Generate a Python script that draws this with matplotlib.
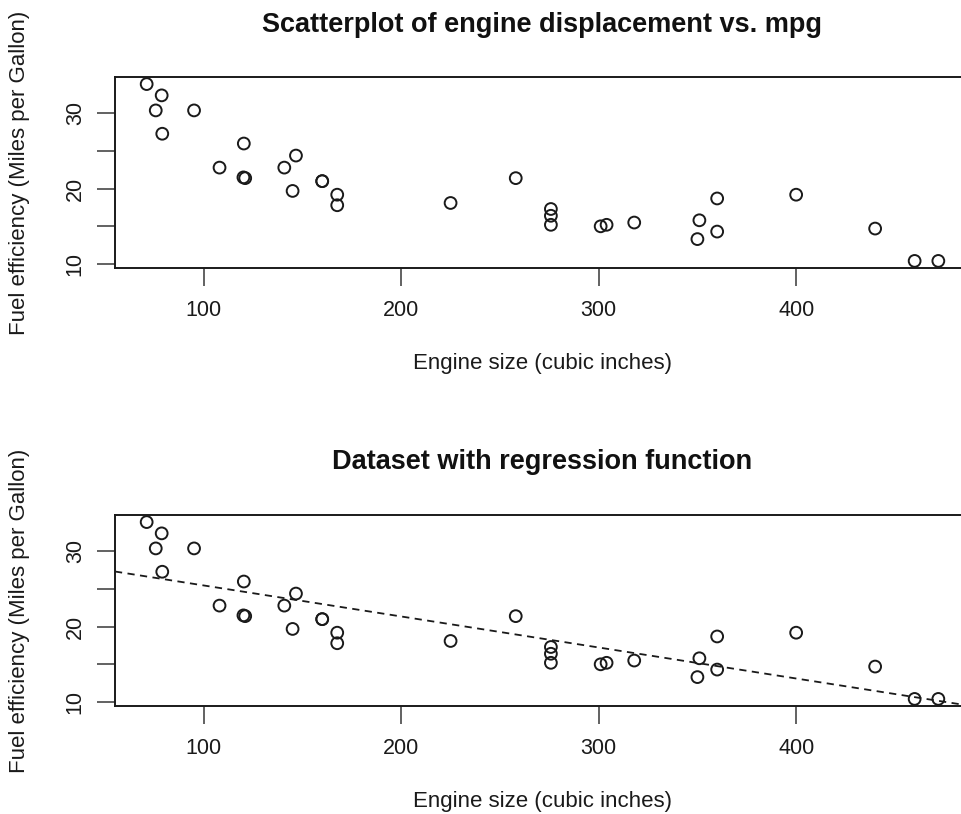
import matplotlib
matplotlib.use("Agg")
import matplotlib.pyplot as plt
import numpy as np

plt.rcParams['font.family'] = ['Liberation Sans', 'DejaVu Sans']

# mtcars: displacement (cu.in.) and mpg
disp = [160, 160, 108, 258, 360, 225, 360, 146.7, 140.8, 167.6, 167.6,
        275.8, 275.8, 275.8, 472, 460, 440, 78.7, 75.7, 71.1, 120.1, 318,
        304, 350, 400, 79, 120.3, 95.1, 351, 145, 301, 121]
mpg = [21.0, 21.0, 22.8, 21.4, 18.7, 18.1, 14.3, 24.4, 22.8, 19.2, 17.8,
       16.4, 17.3, 15.2, 10.4, 10.4, 14.7, 32.4, 30.4, 33.9, 21.5, 15.5,
       15.2, 13.3, 19.2, 27.3, 26.0, 30.4, 15.8, 19.7, 15.0, 21.4]
titles = ["Scatterplot of engine displacement vs. mpg",
          "Dataset with regression function"]
x_ticks = [100, 200, 300, 400]
y_ticks = [10, 15, 20, 25, 30]
y_ticklabels = ["10", "", "20", "", "30"]

W, H = 962, 814
fig = plt.figure(figsize=(W / 100, H / 100), dpi=100)
ink = "#1a1a1a"

def px(x, y):
    return x / W, 1 - y / H

# axes boxes in pixels: left, top, right, bottom (right edge falls off the image)
boxes = [(115, 77, 970, 268), (115, 515, 970, 706)]
title_y = [25, 462]

slope, intercept = np.polyfit(disp, mpg, 1)

for i, (l, t, r, b) in enumerate(boxes):
    ax = fig.add_axes([l / W, 1 - b / H, (r - l) / W, (b - t) / H])
    ax.scatter(disp, mpg, s=72, facecolors="none", edgecolors=ink, linewidths=1.4, zorder=3)
    if i == 1:
        ax.axline((0, intercept), slope=slope, color=ink, linestyle=(0, (4, 3)), linewidth=1.3)
    span = max(disp) - min(disp)
    ax.set_xlim(min(disp) - 0.04 * span, max(disp) + 0.04 * span)
    span = max(mpg) - min(mpg)
    ax.set_ylim(min(mpg) - 0.04 * span, max(mpg) + 0.04 * span)
    ax.set_xticks(x_ticks)
    ax.set_yticks(y_ticks)
    ax.set_yticklabels(y_ticklabels, rotation=90, va="center")
    ax.tick_params(axis="both", length=13, width=1.3, color="#555555",
                   labelsize=15.5, labelcolor=ink)
    ax.tick_params(axis="x", pad=10)
    ax.tick_params(axis="y", pad=8)
    for s in ax.spines.values():
        s.set_color(ink)
        s.set_linewidth(1.4)
    cx = (l + r) / 2
    fig.text(*px(cx, title_y[i]), titles[i], ha="center", va="center",
             fontsize=19.5, fontweight="bold", color="#111111")
    fig.text(*px(cx, b + 95), "Engine size (cubic inches)", ha="center",
             va="center", fontsize=16, color=ink)
    fig.text(*px(20, (t + b) / 2), "Fuel efficiency (Miles per Gallon)",
             ha="center", va="center", rotation=90, fontsize=16, color=ink)

fig.savefig("out.png", dpi=100)
